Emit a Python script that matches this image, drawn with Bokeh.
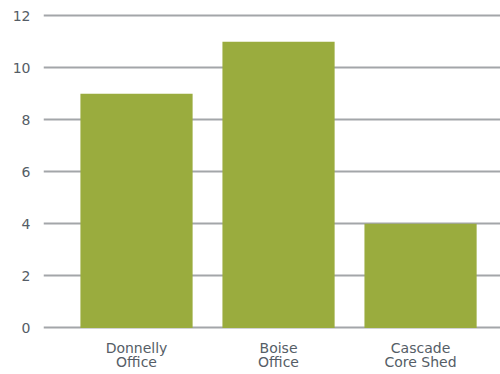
from bokeh.plotting import figure
from bokeh.models import Range1d, FixedTicker, ColumnDataSource
from bokeh.embed import file_html
from bokeh.resources import INLINE

categories = ["Donnelly\nOffice", "Boise\nOffice", "Cascade\nCore Shed"]
values = [9, 11, 4]
y_ticks = [0, 2, 4, 6, 8, 10, 12]

xs = [i + 0.5 for i in range(len(categories))]
src = ColumnDataSource(dict(x=xs, top=values))

p = figure(width=500, height=374, output_backend="svg", toolbar_location=None,
           x_range=Range1d(-0.155, 3.063), y_range=Range1d(-0.1, 12.2),
           min_border_left=43, min_border_right=0, min_border_top=10, min_border_bottom=44)
p.outline_line_color = None
p.background_fill_color = "white"
p.border_fill_color = "white"

p.vbar(x="x", top="top", bottom=0, width=0.79, source=src, color="#9aac3e", line_color=None)

p.xgrid.grid_line_color = None
p.ygrid.grid_line_color = "#a3a6a9"
p.ygrid.grid_line_width = 2
p.ygrid.ticker = FixedTicker(ticks=y_ticks)

font = "DejaVu Sans"
p.yaxis.ticker = FixedTicker(ticks=y_ticks)
p.yaxis.axis_line_color = None
p.yaxis.major_tick_line_color = None
p.yaxis.minor_tick_line_color = None
p.yaxis.major_label_text_font = font
p.yaxis.major_label_text_font_size = "14px"
p.yaxis.major_label_text_color = "#555d66"
p.yaxis.major_label_standoff = 7

p.xaxis.ticker = FixedTicker(ticks=xs)
p.xaxis.major_label_overrides = {x: c for x, c in zip(xs, categories)}
p.xaxis.axis_line_color = None
p.xaxis.major_tick_line_color = None
p.xaxis.minor_tick_line_color = None
p.xaxis.major_label_text_font = font
p.xaxis.major_label_text_font_size = "14px"
p.xaxis.major_label_text_color = "#555d66"
p.xaxis.major_label_standoff = 3
p.xaxis.major_label_text_line_height = 0.93

open("out.html", "w").write(file_html(p, INLINE))
